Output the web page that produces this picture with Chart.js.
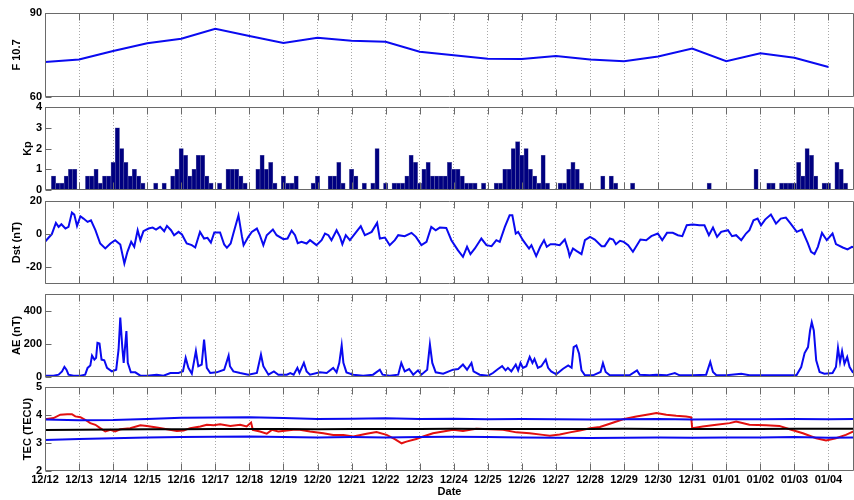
<!DOCTYPE html>
<html>
<head>
<meta charset="utf-8">
<script src="https://cdn.jsdelivr.net/npm/chart.js@4.4.0/dist/chart.umd.min.js"></script>
<style>
  body { margin: 0; background: #fff; width: 854px; height: 500px; overflow: hidden; }
  canvas { position: absolute; left: 0; }
</style>
</head>
<body>
<canvas id="p1"></canvas>
<canvas id="p2"></canvas>
<canvas id="p3"></canvas>
<canvas id="p4"></canvas>
<canvas id="p5"></canvas>
<script>
// x axis: days since 12/12 00:00
const dayLabels = ['12/12','12/13','12/14','12/15','12/16','12/17','12/18','12/19','12/20','12/21',
  '12/22','12/23','12/24','12/25','12/26','12/27','12/28','12/29','12/30','12/31',
  '01/01','01/02','01/03','01/04'];
const lastDay = 23.75;

// daily F10.7
const f107 = [72.5, 73.4, 76.4, 79.2, 80.8, 84.4, 81.8, 79.3, 81.2, 80.1, 79.7, 76.2,
  74.9, 73.7, 73.6, 74.6, 73.4, 72.8, 74.5, 77.3, 72.8, 75.6, 74.0, 70.7];

// 3-hourly Kp
const kpStep = 0.125;
const kp = [
  0, 0, .67, .33, .33, .67, 1, 1, 0, 0,
  .67, .67, 1, .33, .67, .67, 1.33, 3, 2, 1.33,
  .67, 1, .67, .33, 0, 0, .33, 0, .33, 0,
  .67, 1, 2, 1.67, .67, 1, 1.67, 1.67, .67, .33,
  0, .33, 0, 1, 1, 1, .67, .33, 0, 0,
  1, 1.67, 1, 1.33, .33, 0, .67, .33, .33, .67,
  0, 0, 0, .33, .67, 0, 0, .67, .67, 1.33,
  .33, 0, 1, .67, 0, .33, 0, .33, 2, 0,
  .33, 0, .33, .33, .33, .67, 1.67, 1.33, .33, 1,
  1.33, .67, .67, .67, .67, 1.33, 1, 1, .67, .33,
  .33, .33, 0, .33, 0, 0, .33, .33, 1, 1,
  2, 2.33, 1.67, 2, 1, .67, .33, 1.67, .33, 0,
  0, .33, .33, 1, 1.33, 1, .33, 0, 0, 0,
  0, .67, 0, .67, .33, 0, 0, 0, .33, 0,
  0, 0, 0, 0, 0, 0, 0, 0, 0, 0,
  0, 0, 0, 0, 0, 0, .33, 0, 0, 0,
  0, 0, 0, 0, 0, 0, 0, 1, 0, 0,
  .33, .33, 0, .33, .33, .33, .33, 1.33, .67, 2,
  1.67, .67, 0, .33, .33, 0, 1.33, 1, .33, 0
];

// Dst (nT)
const dstTime = [0,0.11,0.2,0.32,0.4,0.48,0.6,0.69,0.79,0.86,
  0.94,1.04,1.13,1.25,1.35,1.48,1.62,1.77,1.92,2.06,
  2.21,2.33,2.42,2.53,2.62,2.72,2.8,2.89,3.04,3.16,
  3.26,3.38,3.5,3.58,3.7,3.79,3.92,4.02,4.16,4.31,
  4.41,4.55,4.67,4.77,4.87,4.97,5.14,5.26,5.34,5.45,
  5.53,5.68,5.78,5.83,5.97,6.07,6.22,6.3,6.41,6.51,
  6.69,6.8,7.0,7.12,7.24,7.34,7.42,7.53,7.68,7.78,
  7.97,8.12,8.22,8.32,8.41,8.56,8.66,8.73,8.83,8.95,
  9.1,9.27,9.39,9.49,9.59,9.75,9.83,9.98,10.12,10.27,
  10.37,10.56,10.76,10.89,11.05,11.2,11.34,11.47,11.59,11.78,
  11.93,12.12,12.27,12.39,12.49,12.62,12.81,12.96,13.11,13.25,
  13.35,13.5,13.64,13.72,13.82,13.89,14.03,14.21,14.28,14.42,
  14.54,14.65,14.73,14.84,14.96,15.11,15.26,15.36,15.4,15.5,
  15.6,15.75,15.85,16.0,16.14,16.34,16.43,16.58,16.68,16.76,
  16.88,16.99,17.12,17.26,17.48,17.65,17.8,17.99,18.12,18.26,
  18.43,18.58,18.71,18.84,19.02,19.21,19.36,19.49,19.61,19.73,
  19.85,20.05,20.17,20.29,20.44,20.58,20.68,20.8,20.92,21.02,
  21.14,21.31,21.46,21.6,21.75,21.89,22.07,22.22,22.39,22.49,
  22.59,22.69,22.81,22.95,23.12,23.22,23.42,23.56,23.69,23.75];
const dstValues = [-4.6,-2,0,6.8,4.4,6,3.4,4.4,13,11.8,
  5,10.8,9.4,7.4,8.4,2.4,-5.6,-8.6,-5.6,-3.6,
  -6.2,-17.6,-10.6,-4.6,-7.6,2.4,-3.6,1.8,3.4,4,
  2.8,4.4,1.8,5,2.4,-0.6,1.4,-0.2,-5.6,-6.6,
  -8,1.4,-2.6,-2.2,-5,1,1,-6.2,-8.2,-5.6,
  0.4,11.4,-1.2,-6.6,-1.6,1.4,3.4,-0.2,-6.6,-0.6,
  2.8,-0.6,-3,-2.6,2.2,-0.6,-5.4,-4.6,-5.6,-3.6,
  -6.6,-3.6,0.4,-0.6,-3.6,2.4,-1.6,-6,-0.6,-3.6,
  0.4,4.8,-0.6,0.4,1.4,6.8,-2.6,-2,-6.6,-3.6,
  -0.6,-1.2,0.8,-1.6,-6.6,-4.6,4.4,2.4,4,3.8,
  -3.6,-9.6,-13.6,-7.6,-12,-8.6,-2.6,-6.6,-7.2,-3.6,
  -4.6,4.4,11.4,11.4,0.4,1.4,-3.6,-8.6,-6.6,-13.2,
  -7.6,-3.6,-7.6,-6,-6,-6.6,-3.2,-9.6,-13.2,-8.6,
  -10,-12,-3.6,-1.6,-3.2,-7.2,-7.2,-2.6,-3.2,-6,
  -4,-4.6,-6.6,-10.6,-3.2,-3.6,-1.2,0.4,-3.6,0.8,
  0.8,-0.6,-1.2,5.4,5.8,5.4,5.4,-0.6,4,-1.6,
  1.4,2.4,-1.2,-0.6,-3.6,0.4,2.4,8.4,9.4,5.4,
  8.8,11.8,6.4,9.4,10,6.4,1.4,2.8,-5.2,-10.6,
  -12,-7.6,0.8,-3.6,0.4,-6,-8,-9.2,-7.6,-8];

// AE (nT)
const aeTime = [0,0.25,0.4,0.5,0.57,0.63,0.69,0.84,1.04,1.18,
  1.25,1.33,1.38,1.45,1.5,1.54,1.6,1.66,1.74,1.82,
  1.96,2.09,2.16,2.21,2.27,2.31,2.39,2.43,2.52,2.65,
  2.8,2.99,3.28,3.48,3.68,3.92,4.05,4.13,4.21,4.31,
  4.43,4.5,4.6,4.67,4.75,4.85,5.04,5.26,5.39,5.43,
  5.53,5.73,5.97,6.22,6.34,6.41,6.56,6.72,6.85,7.1,
  7.2,7.3,7.41,7.47,7.6,7.68,7.78,8.07,8.27,8.46,
  8.56,8.64,8.71,8.76,8.85,9.05,9.34,9.63,9.83,9.91,
  10.12,10.37,10.46,10.56,10.69,10.81,10.95,11.05,11.22,11.3,
  11.37,11.47,11.69,11.98,12.13,12.27,12.39,12.52,12.58,12.76,
  13.01,13.15,13.3,13.42,13.52,13.59,13.69,13.82,13.89,13.96,
  14.03,14.13,14.23,14.31,14.37,14.47,14.57,14.7,14.77,14.86,
  15.01,15.21,15.36,15.46,15.52,15.6,15.68,15.75,15.85,16.09,
  16.31,16.38,16.46,16.58,16.92,17.16,17.38,17.46,17.75,17.95,
  18.24,18.49,18.63,19.02,19.41,19.53,19.61,19.71,20.01,20.44,
  20.68,21.17,21.66,22.06,22.2,22.3,22.4,22.46,22.51,22.57,
  22.64,22.74,22.88,23.12,23.22,23.28,23.34,23.4,23.47,23.55,
  23.62,23.71,23.75];
const aeValues = [8,8,14,34,61,44,14,8,8,14,
  55,69,129,105,115,206,202,105,101,55,
  34,44,166,358,176,85,277,85,28,28,
  8,8,14,8,24,24,34,115,55,20,
  156,65,75,226,55,24,28,44,129,65,
  34,24,14,24,135,65,14,34,14,14,
  24,14,55,24,85,34,14,28,24,55,
  28,85,190,85,28,14,8,14,44,14,
  8,14,85,34,48,14,40,14,44,196,
  85,28,20,44,48,75,44,85,34,14,
  8,24,48,65,40,55,34,75,40,85,
  55,65,121,85,109,55,65,105,55,34,
  16,50,70,56,180,190,140,40,10,10,
  30,84,30,10,10,10,40,14,10,14,
  10,24,10,10,14,90,30,10,10,20,
  10,10,10,10,60,144,180,280,330,280,
  100,30,20,24,60,176,90,156,80,120,
  60,30,25];

// TEC (TECU): observed (red), mean (black) and band (blue)
const tecTime = [0,0.25,0.45,0.65,0.79,0.89,1.04,1.18,1.33,1.48,
  1.62,1.77,1.92,2.06,2.21,2.5,2.8,2.99,3.28,3.58,
  3.87,4.07,4.26,4.56,4.75,4.95,5.14,5.44,5.73,5.92,
  6.05,6.1,6.31,6.51,6.66,6.85,7.1,7.29,7.48,7.78,
  8.17,8.46,8.76,9.05,9.44,9.73,10.03,10.27,10.47,10.61,
  10.9,11.1,11.39,11.69,11.98,12.27,12.66,13.06,13.45,13.84,
  14.23,14.62,14.82,15.11,15.41,15.7,16,16.29,16.58,16.97,
  17.36,17.75,17.95,18.24,18.53,18.82,18.97,19.0,19.31,19.71,
  20.1,20.29,20.68,21.17,21.56,21.86,22.25,22.64,22.93,23.22,
  23.51,23.75];
const tecRed = [3.85,3.89,4.01,4.03,4.03,3.95,3.92,3.83,3.71,3.65,
  3.53,3.41,3.47,3.41,3.49,3.53,3.63,3.61,3.55,3.49,
  3.43,3.45,3.53,3.59,3.65,3.63,3.67,3.61,3.65,3.59,
  3.73,3.47,3.41,3.33,3.47,3.41,3.45,3.47,3.47,3.41,
  3.35,3.29,3.29,3.23,3.33,3.39,3.29,3.14,2.99,3.05,
  3.14,3.23,3.35,3.41,3.47,3.43,3.51,3.49,3.47,3.38,
  3.35,3.29,3.26,3.3,3.38,3.45,3.53,3.57,3.69,3.85,
  3.95,4.03,4.07,4.01,3.97,3.95,3.92,3.53,3.59,3.65,
  3.71,3.77,3.65,3.63,3.61,3.49,3.35,3.17,3.09,3.17,
  3.29,3.42];
const bandTime = [0,1,2,3,4,5,6,7,8,9,10,11,12,13,14,15,16,17,18,19,20,21,22,23,23.75];
const tecUpper = [3.84,3.81,3.82,3.86,3.9,3.91,3.92,3.89,3.86,3.87,3.88,3.86,3.87,
  3.85,3.86,3.85,3.84,3.85,3.86,3.84,3.85,3.85,3.86,3.85,3.86];
const tecLower = [3.11,3.14,3.17,3.2,3.21,3.22,3.23,3.21,3.2,3.21,3.2,3.21,3.22,
  3.21,3.2,3.19,3.18,3.19,3.2,3.19,3.2,3.2,3.21,3.19,3.2];
const tecMean = [3.46,3.47,3.48,3.49,3.49,3.5,3.5,3.5,3.49,3.5,3.5,3.5,3.51,
  3.5,3.5,3.5,3.5,3.51,3.5,3.5,3.5,3.5,3.51,3.51,3.51];

const BLUE = '#0a0af0';
Chart.defaults.font.family = '"Liberation Sans", Arial, Helvetica, sans-serif';
Chart.defaults.font.size = 11;
Chart.defaults.font.weight = 'bold';
Chart.defaults.color = '#000';

const pts = (xs, ys) => xs.map((x, i) => ({x: x, y: ys[i]}));

// matlab-like box with inward tick marks
const axesFrame = {
  id: 'axesFrame',
  afterDraw(chart) {
    const {ctx, chartArea: a} = chart;
    const x = chart.scales.x, y = chart.scales.y;
    const l = Math.round(a.left) + 0.5, r = Math.round(a.right) - 0.5;
    const t = Math.round(a.top) + 0.5, b = Math.round(a.bottom) - 0.5;
    ctx.save();
    ctx.strokeStyle = '#6a6a6a';
    ctx.lineWidth = 1;
    ctx.beginPath();
    ctx.rect(l, t, r - l, b - t);
    x.ticks.forEach(tk => {
      const px = Math.round(x.getPixelForValue(tk.value)) + 0.5;
      ctx.moveTo(px, t); ctx.lineTo(px, t + 7);
      ctx.moveTo(px, b); ctx.lineTo(px, b - 7);
    });
    y.ticks.forEach(tk => {
      const py = Math.round(y.getPixelForValue(tk.value)) + 0.5;
      ctx.moveTo(l, py); ctx.lineTo(l + 6, py);
    });
    ctx.stroke();
    ctx.restore();
  }
};

function makePanel(id, top, bottom, cfg) {
  const last = !!cfg.last;
  const canvas = document.getElementById(id);
  const cTop = top - 10;
  const cBottom = last ? 500 : bottom + 10;
  canvas.width = 854;
  canvas.height = cBottom - cTop;
  canvas.style.top = cTop + 'px';
  return new Chart(canvas, {
    type: cfg.type || 'line',
    data: {datasets: cfg.datasets},
    plugins: [axesFrame],
    options: {
      responsive: false,
      animation: false,
      layout: {padding: {left: 0, right: 0, top: 10, bottom: last ? 0 : 10}},
      plugins: {legend: {display: false}, tooltip: {enabled: false}},
      elements: {point: {radius: 0}, line: {borderWidth: 2, tension: 0}},
      scales: {
        x: {
          type: 'linear', min: 0, max: lastDay, offset: false,
          afterBuildTicks: s => { s.ticks = dayLabels.map((_, i) => ({value: i})); },
          afterFit: s => { s.height = last ? 29 : 0; },
          grid: {color: '#a8a8a8', lineWidth: 1, drawTicks: false, offset: false},
          border: {display: false, dash: [1, 2]},
          ticks: {display: last, padding: 2, maxRotation: 0, autoSkip: false,
                  callback: v => dayLabels[Math.round(v)]},
          title: {display: last, text: 'Date', padding: {top: 0, bottom: 1.5}}
        },
        y: {
          min: cfg.min, max: cfg.max,
          afterBuildTicks: s => { s.ticks = cfg.ticks.map(v => ({value: v})); },
          afterFit: s => { s.width = 45; },
          grid: {display: false, drawTicks: false},
          border: {display: false},
          ticks: {padding: 3},
          title: {display: true, text: cfg.label, padding: {top: cfg.titlePad, bottom: 0}}
        }
      }
    }
  });
}

makePanel('p1', 13, 97, {
  label: 'F 10.7', min: 60, max: 90, ticks: [60, 90], titlePad: 10.4,
  datasets: [{data: f107.map((v, i) => ({x: i, y: v})), borderColor: BLUE}]
});

makePanel('p2', 107, 190, {
  type: 'bar', label: 'Kp', min: 0, max: 4, ticks: [0, 1, 2, 3, 4], titlePad: 21.4,
  datasets: [{
    data: kp.map((v, k) => ({x: k * kpStep, y: v})),
    backgroundColor: '#000080', borderColor: '#6060a8', borderWidth: 0.6,
    barPercentage: 1, categoryPercentage: 1
  }]
});

makePanel('p3', 201, 284, {
  label: 'Dst (nT)', min: -30, max: 20, ticks: [-20, 0, 20], titlePad: 10.4,
  datasets: [{data: pts(dstTime, dstValues), borderColor: BLUE}]
});

makePanel('p4', 294, 377, {
  label: 'AE (nT)', min: 0, max: 500, ticks: [0, 200, 400], titlePad: 10.4,
  datasets: [{data: pts(aeTime, aeValues), borderColor: BLUE}]
});

makePanel('p5', 387, 471, {
  last: true, label: 'TEC (TECU)', min: 2, max: 5, ticks: [2, 3, 4, 5], titlePad: 21.4,
  datasets: [
    {data: pts(bandTime, tecUpper), borderColor: BLUE},
    {data: pts(bandTime, tecLower), borderColor: BLUE},
    {data: pts(bandTime, tecMean), borderColor: '#000'},
    {data: pts(tecTime, tecRed), borderColor: '#e21010'}
  ]
});
</script>
</body>
</html>
